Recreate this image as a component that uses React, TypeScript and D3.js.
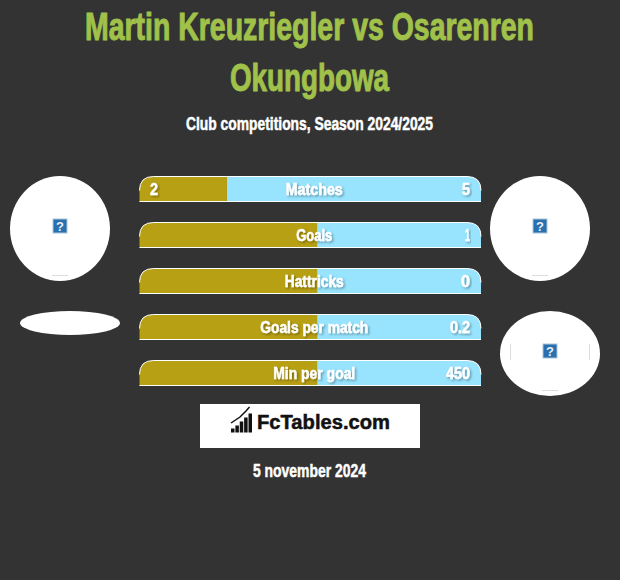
import React from "react";
import * as d3 from "d3";

const titleLines = ["Martin Kreuzriegler vs Osarenren", "Okungbowa"];
const subtitle = "Club competitions, Season 2024/2025";
const dateLabel = "5 november 2024";
const logoLabel = "FcTables.com";
const categories = ["Matches", "Goals", "Hattricks", "Goals per match", "Min per goal"];
const leftLabels = ["2", "", "", "", ""];
const rightLabels = ["5", "1", "0", "0.2", "450"];
const leftShares = [0.256, 0.52, 0.52, 0.52, 0.52];
const logoBars = [4, 7, 11, 15, 19];

const catWidths = [57, 36, 59, 108, 82];
const leftWidths = [8, 0, 0, 0, 0];
const rightWidths = [8, 5, 9, 20, 24];

const FONT = "'Liberation Sans',sans-serif";
const W = 620, H = 580;
const x = d3.scaleLinear().domain([0, 1]).range([139.5, 481]);
const y = d3.scalePoint<string>().domain(categories).range([176.5, 360.5]);
const BAR_H = 25;
const R = 14;

function leftPath(x0: number, x1: number, t: number) {
  const p = d3.path();
  p.moveTo(x0, t + BAR_H);
  p.lineTo(x0, t + R);
  p.quadraticCurveTo(x0, t, x0 + R, t);
  p.lineTo(x1, t);
  p.lineTo(x1, t + BAR_H);
  p.closePath();
  return p.toString();
}
function rightPath(x0: number, x1: number, t: number) {
  const p = d3.path();
  p.moveTo(x0, t);
  p.lineTo(x1 - R, t);
  p.quadraticCurveTo(x1, t, x1, t + R);
  p.lineTo(x1, t + BAR_H);
  p.lineTo(x0, t + BAR_H);
  p.closePath();
  return p.toString();
}
function outline(x0: number, x1: number, t: number) {
  const p = d3.path();
  p.moveTo(x0, t + R);
  p.quadraticCurveTo(x0, t, x0 + R, t);
  p.lineTo(x1 - R, t);
  p.quadraticCurveTo(x1, t, x1, t + R);
  p.moveTo(x0, t + BAR_H);
  p.lineTo(x1, t + BAR_H);
  return p.toString();
}

function Label(props: { x: number; y: number; w: number; size: number; fill: string; anchor?: string; shadow?: boolean; children: string; bold?: number }) {
  const { x: lx, y: ly, w, size, fill, anchor = "middle", shadow, children, bold = 0.5 } = props;
  if (!children) return null;
  return (
    <text x={lx} y={ly} textAnchor={anchor as any} fontFamily={FONT} fontWeight={700} fontSize={size} fill={fill}
      stroke={fill} strokeWidth={bold} textLength={w} lengthAdjust="spacingAndGlyphs" filter={shadow ? "url(#ts)" : undefined}>
      {children}
    </text>
  );
}

function Icon({ cx, cy }: { cx: number; cy: number }) {
  return (
    <g>
      <rect x={cx - 7} y={cy - 7} width={14} height={14} fill="#2a6fae" stroke="#a9c6de" strokeWidth={1} />
      <text x={cx} y={cy + 4.5} textAnchor="middle" fontFamily={FONT} fontWeight={700} fontSize={13} fill="#e6f0f8">?</text>
    </g>
  );
}

export default function App() {
  const logoX = d3.scaleBand<number>().domain(logoBars.map((_, i) => i)).range([231, 252]).paddingInner(0.2);
  return (
    <svg width={W} height={H} viewBox={`0 0 ${W} ${H}`} style={{ position: "absolute", left: 0, top: 0, display: "block" }}>
      <defs>
        <filter id="ts" x="-20%" y="-30%" width="140%" height="170%">
          <feDropShadow dx={1.5} dy={1.5} stdDeviation={1} floodColor="#000" floodOpacity={0.35} />
        </filter>
      </defs>
      <rect width={W} height={H} fill="#333333" />

      <Label x={309.5} y={39.5} w={449} size={39} fill="#a0c14a" bold={1}>{titleLines[0]}</Label>
      <Label x={309.5} y={90.5} w={159} size={39} fill="#a0c14a" bold={1}>{titleLines[1]}</Label>
      <Label x={309.5} y={130} w={247} size={18} fill="#ffffff">{subtitle}</Label>

      <ellipse cx={60} cy={228.5} rx={50} ry={52.5} fill="#fff" />
      <line x1={52} x2={68} y1={275.5} y2={275.5} stroke="#ddd" />
      <Icon cx={60} cy={226} />
      <ellipse cx={70} cy={323} rx={50} ry={12} fill="#fff" />
      <ellipse cx={540} cy={228.5} rx={50} ry={52.5} fill="#fff" />
      <line x1={532} x2={548} y1={275.5} y2={275.5} stroke="#ddd" />
      <Icon cx={540} cy={226} />
      <ellipse cx={550} cy={353.5} rx={50} ry={42.5} fill="#fff" />
      <line x1={510.5} x2={510.5} y1={344} y2={360} stroke="#ddd" />
      <line x1={589.5} x2={589.5} y1={344} y2={360} stroke="#ddd" />
      <line x1={542} x2={558} y1={390.5} y2={390.5} stroke="#ddd" />
      <Icon cx={550} cy={351} />

      {categories.map((c, i) => {
        const t = y(c)!;
        const split = x(leftShares[i]);
        return (
          <g key={c}>
            <path d={rightPath(split, x(1), t)} fill="#98e4ff" />
            <path d={leftPath(x(0), split, t)} fill="#b8a014" />
            <path d={outline(x(0), x(1), t)} fill="none" stroke="#fff" strokeWidth={1} />
            <Label x={x(0.5) + 4} y={t + 18.5} w={catWidths[i]} size={17} fill="#fff" shadow>{c}</Label>
            <Label x={150} y={t + 18.5} w={leftWidths[i]} size={17} fill="#fff" anchor="start" shadow>{leftLabels[i]}</Label>
            <Label x={470} y={t + 18.5} w={rightWidths[i]} size={17} fill="#fff" anchor="end" shadow>{rightLabels[i]}</Label>
          </g>
        );
      })}

      <rect x={200} y={404} width={220} height={44} fill="#fff" />
      {logoBars.map((h, i) => (
        <rect key={i} x={logoX(i)!} y={432.5 - h} width={logoX.bandwidth()} height={h} fill="#111" />
      ))}
      <path d={d3.line()([[231, 423], [240, 417], [246, 411], [249.5, 407]]) || ""} fill="none" stroke="#111" strokeWidth={1.5} />
      <Label x={257} y={429} w={133} size={20} fill="#111" anchor="start">{logoLabel}</Label>
      <Label x={309.5} y={476.5} w={113} size={18} fill="#fff">{dateLabel}</Label>
    </svg>
  );
}
